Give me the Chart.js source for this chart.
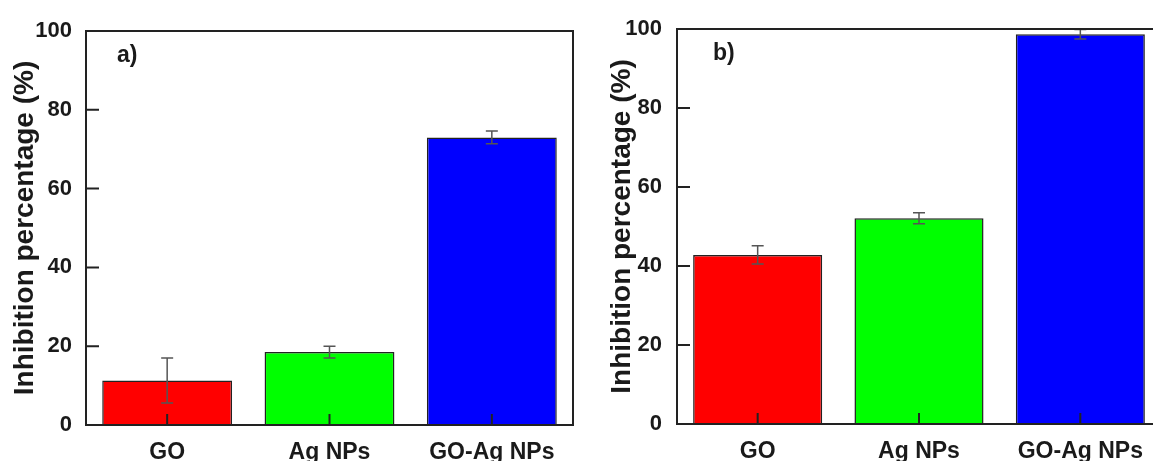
<!DOCTYPE html>
<html>
<head>
<meta charset="utf-8">
<script src="https://cdn.jsdelivr.net/npm/chart.js@4.4.0/dist/chart.umd.min.js"></script>
<style>
	html, body { margin: 0; padding: 0; background: #fff; overflow: hidden; }
	#contenedor { position: relative; width: 1153px; height: 461px; overflow: hidden; }
	#graficaA { position: absolute; left: 0; top: 0; }
	#graficaB { position: absolute; left: 580px; top: 0; }
</style>
</head>
<body>
<div id="contenedor">
	<canvas id="graficaA" width="580" height="461"></canvas>
	<canvas id="graficaB" width="590" height="461"></canvas>
</div>
<script>
const categorias = ['GO', 'Ag NPs', 'GO-Ag NPs'];
const coloresBarras = ['#ff0000', '#00ff00', '#0000ff'];
const ticksY = [0, 20, 40, 60, 80, 100];

// panel a)
const valoresA = [11.3, 18.5, 73.0];
const erroresA = [5.7, 1.5, 1.6];

// panel b)
const valoresB = [42.8, 52.1, 98.7];
const erroresB = [2.3, 1.4, 1.2];

const fuente = '"Liberation Sans", Arial, sans-serif';
const colorTexto = '#1a1a1a';

// barras de error, marcas hacia dentro, marco y etiqueta del panel
const marcoPlugin = {
	id: 'marco',
	afterDatasetsDraw(chart, args, opts) {
		const ctx = chart.ctx;
		const area = chart.chartArea;
		const x = chart.scales.x;
		const y = chart.scales.y;

		ctx.save();
		chart.data.datasets.forEach((ds, di) => {
			const meta = chart.getDatasetMeta(di);
			meta.data.forEach((barra, i) => {
				const v = ds.data[i];
				const e = ds.errores[i];
				const yArriba = y.getPixelForValue(v + e);
				const yAbajo = y.getPixelForValue(v - e);
				ctx.strokeStyle = '#555';
				ctx.lineWidth = 1.5;
				ctx.beginPath();
				ctx.moveTo(barra.x, yArriba);
				ctx.lineTo(barra.x, yAbajo);
				ctx.moveTo(barra.x - 6, yArriba);
				ctx.lineTo(barra.x + 6, yArriba);
				ctx.moveTo(barra.x - 6, yAbajo);
				ctx.lineTo(barra.x + 6, yAbajo);
				ctx.stroke();
			});
		});

		ctx.strokeStyle = '#222';
		ctx.lineWidth = 2;
		ctx.beginPath();
		y.ticks.forEach(t => {
			if (t.value > 0 && t.value < 100) {
				const py = y.getPixelForValue(t.value);
				ctx.moveTo(area.left, py);
				ctx.lineTo(area.left + 13, py);
			}
		});
		x.ticks.forEach((t, i) => {
			const px = x.getPixelForTick(i);
			ctx.moveTo(px, area.bottom);
			ctx.lineTo(px, area.bottom - 11);
		});
		ctx.stroke();

		ctx.strokeRect(area.left, area.top, area.right - area.left, area.bottom - area.top);

		ctx.fillStyle = colorTexto;
		ctx.font = 'bold 23px ' + fuente;
		ctx.textAlign = 'left';
		ctx.textBaseline = 'alphabetic';
		ctx.fillText(opts.etiqueta, area.left + opts.dx, area.top + opts.dy);
		ctx.restore();
	}
};

function crearGrafica(id, valores, errores, etiqueta, cfg) {
	return new Chart(document.getElementById(id), {
		type: 'bar',
		data: {
			labels: categorias,
			datasets: [{
				data: valores,
				errores: errores,
				backgroundColor: coloresBarras,
				borderColor: '#222',
				borderWidth: 1.5,
				categoryPercentage: 0.8,
				barPercentage: 1.0
			}]
		},
		options: {
			responsive: false,
			animation: false,
			layout: { padding: { left: 0, top: cfg.arriba, right: cfg.derecha, bottom: 0 } },
			plugins: {
				legend: { display: false },
				tooltip: { enabled: false },
				marco: { etiqueta: etiqueta, dx: cfg.dx, dy: cfg.dy }
			},
			scales: {
				x: {
					afterFit: s => { s.height = cfg.altoX; },
					grid: { display: false, drawTicks: false },
					border: { display: false },
					ticks: { color: colorTexto, padding: 14, font: { family: fuente, size: 23, weight: 'bold' } }
				},
				y: {
					min: 0,
					max: 100,
					afterBuildTicks: s => { s.ticks = ticksY.map(v => ({ value: v })); },
					afterFit: s => { s.width = cfg.anchoY; },
					grid: { display: false, drawTicks: false },
					border: { display: false },
					ticks: { color: colorTexto, padding: cfg.padTicks, font: { family: fuente, size: 22, weight: 'bold' } },
					title: {
						display: true,
						text: 'Inhibition percentage (%)',
						color: colorTexto,
						font: { family: fuente, size: 28, weight: 'bold' },
						padding: { top: cfg.padTitulo, bottom: 0 }
					}
				}
			}
		},
		plugins: [marcoPlugin]
	});
}

crearGrafica('graficaA', valoresA, erroresA, 'a)', {
	arriba: 31, derecha: 7, altoX: 36, anchoY: 86, padTicks: 14, padTitulo: 8, dx: 31, dy: 31
});

crearGrafica('graficaB', valoresB, erroresB, 'b)', {
	arriba: 29, derecha: 9, altoX: 37, anchoY: 97, padTicks: 15, padTitulo: 25, dx: 36, dy: 31
});
</script>
</body>
</html>
